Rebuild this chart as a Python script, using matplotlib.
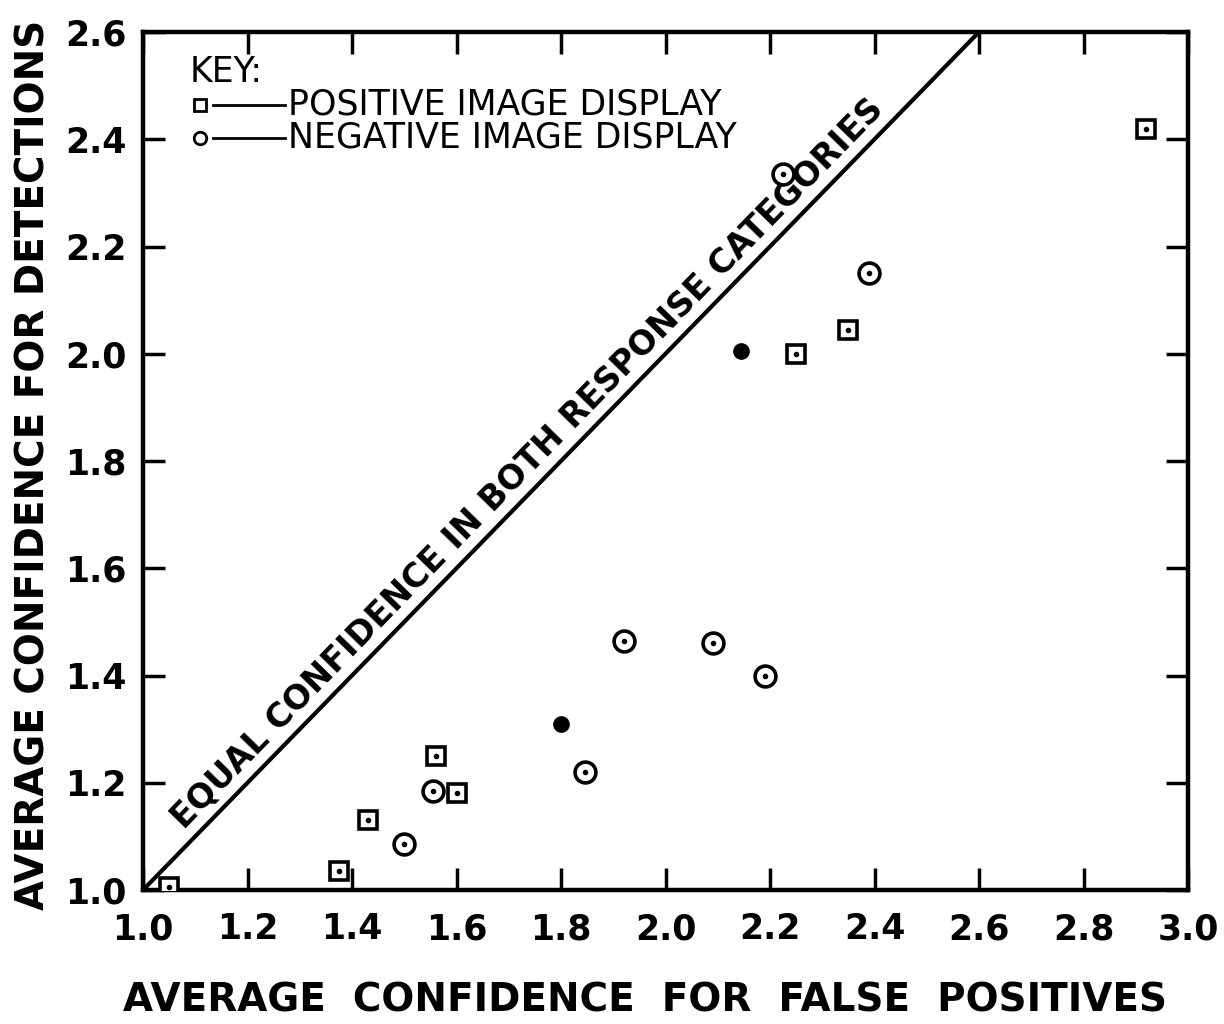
import matplotlib
matplotlib.use("Agg")
import matplotlib.pyplot as plt
import numpy as np

# Positive image display (squares)
pos_x = [1.05, 1.375, 1.43, 1.56, 1.60, 2.25, 2.35, 2.92]
pos_y = [1.005, 1.035, 1.13, 1.25, 1.18, 2.00, 2.045, 2.42]
# Negative image display (circles)
neg_x = [1.50, 1.555, 1.845, 1.92, 2.09, 2.19, 2.225, 2.39]
neg_y = [1.085, 1.185, 1.22, 1.465, 1.46, 1.40, 2.335, 2.15]
# Solid dots
dot_x = [1.80, 2.145]
dot_y = [1.31, 2.005]

x_ticks = [1.0, 1.2, 1.4, 1.6, 1.8, 2.0, 2.2, 2.4, 2.6, 2.8, 3.0]
y_ticks = [1.0, 1.2, 1.4, 1.6, 1.8, 2.0, 2.2, 2.4, 2.6]
diag = [1.0, 2.6]

plt.rcParams['font.family'] = ['DejaVu Sans']
fig = plt.figure(figsize=(12.24, 10.24), dpi=100)
ax = fig.add_axes([143/1224, 1-890/1024, (1188-143)/1224, (890-32)/1024])
ax.set_xlim(1.0, 3.0)
ax.set_ylim(1.0, 2.6)

for s in ax.spines.values():
    s.set_linewidth(3.2)
ax.set_xticks(x_ticks)
ax.set_yticks(y_ticks)
ax.set_xticklabels([f"{v:.1f}" for v in x_ticks], fontsize=25, fontweight='bold')
ax.set_yticklabels([f"{v:.1f}" for v in y_ticks], fontsize=25, fontweight='bold')
ax.tick_params(direction='in', length=16, width=2.5, top=True, right=True, pad=8)
ax.tick_params(axis='x', pad=16)
ax.tick_params(axis='y', pad=12)

ax.plot(diag, diag, color='black', lw=3, zorder=2)
ang = np.degrees(np.arctan2(536.25, 522.5))
ax.text(1.735, 1.795, "EQUAL CONFIDENCE IN BOTH RESPONSE CATEGORIES", rotation=ang,
        rotation_mode='anchor', ha='center', va='center', fontsize=24, fontweight='semibold')

ax.plot(pos_x, pos_y, ls='none', marker='s', ms=13, mfc='white', mec='black', mew=2.6, zorder=3)
ax.plot(pos_x, pos_y, ls='none', marker='o', ms=3, mfc='black', mec='black', zorder=4)
ax.plot(neg_x, neg_y, ls='none', marker='o', ms=15, mfc='white', mec='black', mew=2.6, zorder=3)
ax.plot(neg_x, neg_y, ls='none', marker='o', ms=3, mfc='black', mec='black', zorder=4)
ax.plot(dot_x, dot_y, ls='none', marker='o', ms=11, mfc='black', mec='black', zorder=3)

# Key
ax.text(0.045, 0.953, "KEY:", transform=ax.transAxes, fontsize=25, va='center', ha='left')
ax.plot([0.0545], [0.915], transform=ax.transAxes, marker='s', ms=8, mfc='white', mec='black', mew=2)
ax.plot([0.067, 0.136], [0.915, 0.915], transform=ax.transAxes, color='black', lw=2)
ax.text(0.139, 0.915, "POSITIVE IMAGE DISPLAY", transform=ax.transAxes, fontsize=25,
        va='center', ha='left')
ax.plot([0.0545], [0.877], transform=ax.transAxes, marker='o', ms=9, mfc='white', mec='black', mew=2)
ax.plot([0.067, 0.136], [0.877, 0.877], transform=ax.transAxes, color='black', lw=2)
ax.text(0.139, 0.877, "NEGATIVE IMAGE DISPLAY", transform=ax.transAxes, fontsize=25,
        va='center', ha='left')

fig.text(645/1224, 1-1000/1024, "AVERAGE  CONFIDENCE  FOR  FALSE  POSITIVES", ha='center', va='center',
         fontsize=28, fontweight='bold')
fig.text(34/1224, 1-465/1024, "AVERAGE CONFIDENCE FOR DETECTIONS", ha='center', va='center',
         rotation=90, fontsize=28, fontweight='bold')

fig.savefig("out.png", dpi=100)
